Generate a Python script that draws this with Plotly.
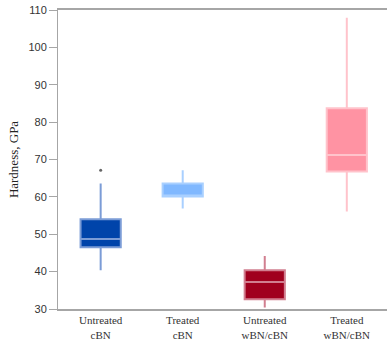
import plotly.graph_objects as go

categories = ["Untreated<br>cBN", "Treated<br>cBN", "Untreated<br>wBN/cBN", "Treated<br>wBN/cBN"]
q1 = [46.5, 60.1, 32.6, 66.8]
median = [48.7, 60.1, 37.2, 71.2]
q3 = [54.0, 63.6, 40.4, 83.7]
lowerfence = [40.4, 56.9, 30.4, 56.1]
upperfence = [63.6, 67.1, 44.2, 107.9]
outlier_cat = [categories[0]]
outlier_val = [67.1]

fills = ["#0044aa", "#80b8ff", "#a0001e", "#ff93a3"]
lines = ["#7b9cd6", "#a9d0ff", "#d17f90", "#ffc3cb"]

fig = go.Figure()
for i, c in enumerate(categories):
    fig.add_trace(go.Box(
        x=[c], q1=[q1[i]], median=[median[i]], q3=[q3[i]],
        lowerfence=[lowerfence[i]], upperfence=[upperfence[i]],
        fillcolor=fills[i], line=dict(color=lines[i], width=2),
        whiskerwidth=0, width=0.49, boxpoints=False, showlegend=False,
        hoverinfo="skip",
    ))

fig.add_trace(go.Scatter(
    x=outlier_cat, y=outlier_val, mode="markers",
    marker=dict(color="#666666", size=3), showlegend=False,
))

fig.update_layout(
    width=387, height=345,
    margin=dict(l=58, r=0, t=10, b=36),
    paper_bgcolor="white", plot_bgcolor="white",
    xaxis=dict(
        type="category", categoryorder="array", categoryarray=categories,
        range=[-0.52, 3.49], showline=True, mirror=True, linecolor="#a6a6a6",
        linewidth=2, ticks="", showgrid=False,
        tickfont=dict(family="Liberation Serif", size=11, color="#333333"),
    ),
    yaxis=dict(
        range=[30, 110], dtick=10, showline=True, linecolor="#a6a6a6",
        linewidth=1, ticks="outside", ticklen=8, tickcolor="#a6a6a6",
        showgrid=False, zeroline=False,
        tickfont=dict(family="Liberation Sans", size=11, color="#333333"),
        title=dict(text="Hardness, GPa", standoff=6,
                   font=dict(family="Liberation Serif", size=13, color="#222222")),
    ),
)

fig.write_html("out.html", config={"displayModeBar": False},
               post_script="document.body.style.margin='0';document.body.style.overflow='hidden';")
